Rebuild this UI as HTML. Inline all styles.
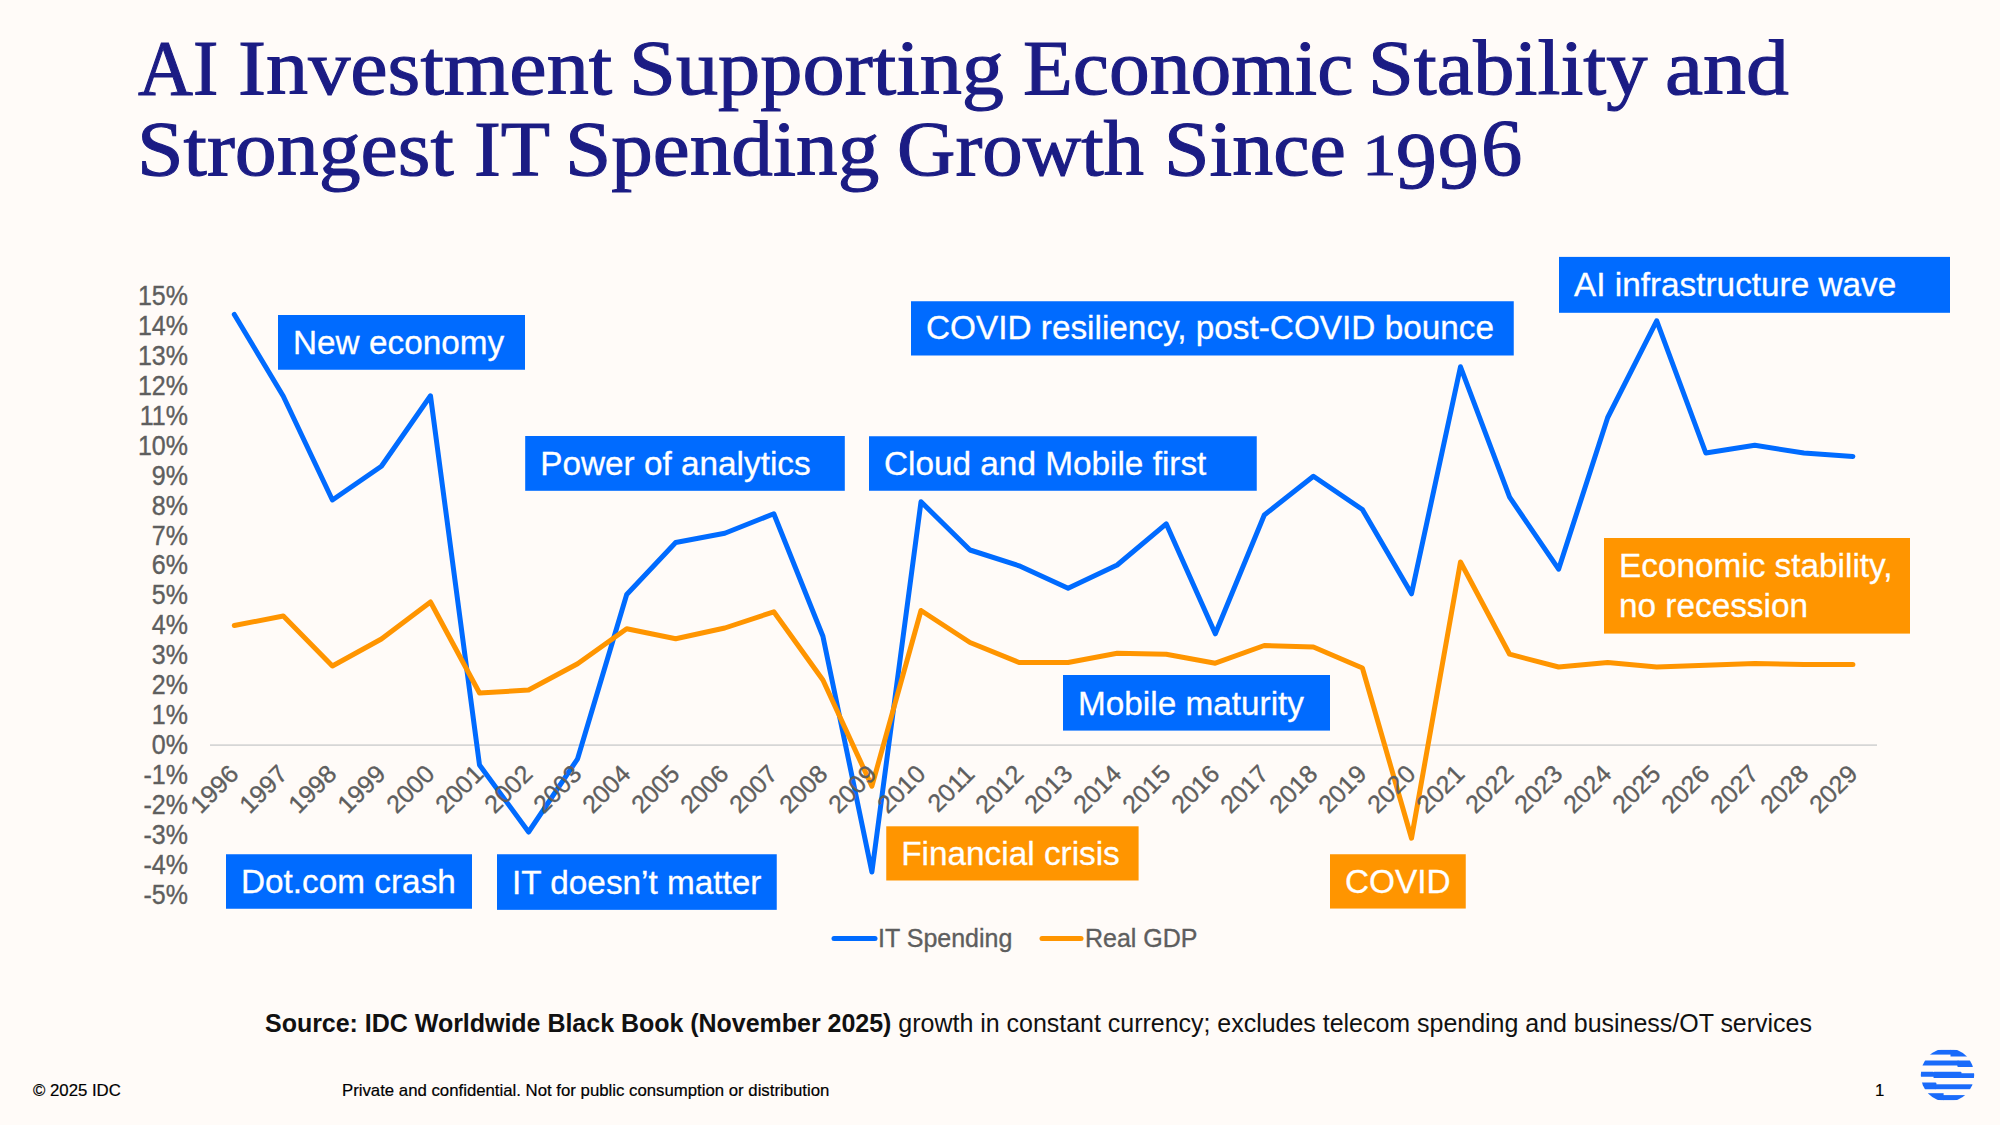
<!DOCTYPE html>
<html lang="en"><head><meta charset="utf-8"><title>AI Investment Supporting Economic Stability</title>
<style>
html,body{margin:0;padding:0;background:#FFFBF8;}
body{width:2000px;height:1125px;position:relative;overflow:hidden;font-family:"Liberation Sans",Arial,sans-serif;}
.title{position:absolute;left:0;top:0;margin:0;font-family:"Liberation Serif","DejaVu Serif",serif;font-weight:400;font-size:79px;line-height:81.6px;color:#1B1C84;white-space:nowrap;-webkit-text-stroke:1.1px #1B1C84;}
.title span{position:absolute;display:block;transform-origin:0 0;}
.yl{position:absolute;left:88px;width:100px;text-align:right;font-size:25px;line-height:29px;color:#5e5e5e;white-space:nowrap;transform:scaleY(1.07);transform-origin:50% 53%;-webkit-text-stroke:0.35px #5e5e5e;}
.xl{position:absolute;top:754.5px;width:100px;text-align:right;font-size:25px;line-height:29px;color:#5e5e5e;white-space:nowrap;transform-origin:100% 50%;transform:rotate(-45deg);-webkit-text-stroke:0.35px #5e5e5e;}
.bt{font-family:"Liberation Sans",Arial,sans-serif;font-size:33.33px;fill:#fff;stroke:#fff;stroke-width:0.3px;white-space:pre;}
svg{position:absolute;left:0;top:0;}
.leg{position:absolute;top:923.5px;font-size:25px;line-height:29px;color:#5e5e5e;white-space:nowrap;transform:scaleY(1.04);transform-origin:0 80%;-webkit-text-stroke:0.35px #5e5e5e;}
.src{position:absolute;left:265px;top:1009px;font-size:25px;line-height:29px;color:#111;white-space:nowrap;letter-spacing:-0.022px;}
.ft{-webkit-text-stroke:0.2px #000;position:absolute;top:1081px;font-size:16.77px;line-height:19px;color:#000;white-space:nowrap;}
</style></head><body>
<h1 class="title"><span style="left:138.0px;top:26.5px;transform:scaleX(0.9630)">AI</span> <span style="left:237.9px;top:26.5px;transform:scaleX(1.0659)">Investment</span> <span style="left:629.2px;top:26.5px;transform:scaleX(1.0681)">Supporting</span> <span style="left:1023.4px;top:26.5px;transform:scaleX(1.0315)">Economic</span> <span style="left:1368.3px;top:26.5px;transform:scaleX(1.0437)">Stability</span> <span style="left:1665.3px;top:26.5px;transform:scaleX(1.0848)">and</span>
<span style="left:137.2px;top:108.1px;transform:scaleX(1.0612)">Strongest</span> <span style="left:473.5px;top:108.1px;transform:scaleX(1.0208)">IT</span> <span style="left:564.7px;top:108.1px;transform:scaleX(1.0529)">Spending</span> <span style="left:897.3px;top:108.1px;transform:scaleX(1.0235)">Growth</span> <span style="left:1164.3px;top:108.1px;transform:scaleX(1.0357)">Since</span> <span style="left:1362.0px;top:123.6px;transform:scale(0.8793,0.7593)">1</span><span style="left:1395.7px;top:119.8px;transform:scale(1.0343,1.0130)">9</span><span style="left:1437.5px;top:119.8px;transform:scale(1.0371,1.0130)">9</span><span style="left:1480.5px;top:106.7px;transform:scale(1.0457,1.0185)">6</span></h1>
<svg width="2000" height="1125" viewBox="0 0 2000 1125">
<line x1="210" y1="745.1" x2="1877" y2="745.1" stroke="#D6D6D6" stroke-width="1.9"/>
<polyline points="234.3,314.5 283.3,396.2 332.4,500.0 381.4,466.2 430.5,395.8 479.5,765.0 528.6,832.0 577.6,758.8 626.7,594.5 675.7,542.5 724.8,533.2 773.8,513.8 822.9,636.2 871.9,872.0 921.0,501.8 970.0,550.0 1019.1,565.8 1068.1,588.2 1117.2,565.0 1166.2,523.8 1215.3,633.8 1264.3,515.0 1313.4,476.2 1362.4,509.5 1411.5,593.8 1460.5,366.8 1509.6,497.2 1558.6,569.2 1607.7,417.5 1656.7,320.8 1705.8,453.0 1754.8,445.3 1803.9,453.0 1852.9,456.4" fill="none" stroke="#006BFF" stroke-width="5" stroke-linejoin="round" stroke-linecap="round"/>
<polyline points="234.3,625.5 283.3,616.0 332.4,666.0 381.4,639.0 430.5,602.0 479.5,693.0 528.6,690.0 577.6,663.8 626.7,628.8 675.7,638.8 724.8,628.0 773.8,611.8 822.9,680.0 871.9,786.2 921.0,610.5 970.0,642.5 1019.1,662.5 1068.1,662.5 1117.2,653.2 1166.2,654.2 1215.3,663.2 1264.3,645.5 1313.4,647.0 1362.4,668.0 1411.5,838.2 1460.5,562.0 1509.6,654.2 1558.6,667.0 1607.7,662.5 1656.7,667.0 1705.8,665.3 1754.8,663.6 1803.9,664.4 1852.9,664.4" fill="none" stroke="#FF9500" stroke-width="5" stroke-linejoin="round" stroke-linecap="round"/>
<line x1="834" y1="938.5" x2="875" y2="938.5" stroke="#006BFF" stroke-width="5" stroke-linecap="round"/>
<line x1="1042" y1="938.5" x2="1081" y2="938.5" stroke="#FF9500" stroke-width="5" stroke-linecap="round"/>
</svg>
<div class="yl" style="top:281.1px">15%</div>
<div class="yl" style="top:311.0px">14%</div>
<div class="yl" style="top:340.9px">13%</div>
<div class="yl" style="top:370.9px">12%</div>
<div class="yl" style="top:400.8px">11%</div>
<div class="yl" style="top:430.7px">10%</div>
<div class="yl" style="top:460.6px">9%</div>
<div class="yl" style="top:490.5px">8%</div>
<div class="yl" style="top:520.5px">7%</div>
<div class="yl" style="top:550.4px">6%</div>
<div class="yl" style="top:580.3px">5%</div>
<div class="yl" style="top:610.2px">4%</div>
<div class="yl" style="top:640.1px">3%</div>
<div class="yl" style="top:670.1px">2%</div>
<div class="yl" style="top:700.0px">1%</div>
<div class="yl" style="top:729.9px">0%</div>
<div class="yl" style="top:759.8px">-1%</div>
<div class="yl" style="top:789.7px">-2%</div>
<div class="yl" style="top:819.7px">-3%</div>
<div class="yl" style="top:849.6px">-4%</div>
<div class="yl" style="top:879.5px">-5%</div>

<div class="xl" style="left:133.9px">1996</div>
<div class="xl" style="left:182.9px">1997</div>
<div class="xl" style="left:232.0px">1998</div>
<div class="xl" style="left:281.0px">1999</div>
<div class="xl" style="left:330.1px">2000</div>
<div class="xl" style="left:379.1px">2001</div>
<div class="xl" style="left:428.2px">2002</div>
<div class="xl" style="left:477.2px">2003</div>
<div class="xl" style="left:526.3px">2004</div>
<div class="xl" style="left:575.3px">2005</div>
<div class="xl" style="left:624.4px">2006</div>
<div class="xl" style="left:673.4px">2007</div>
<div class="xl" style="left:722.5px">2008</div>
<div class="xl" style="left:771.5px">2009</div>
<div class="xl" style="left:820.6px">2010</div>
<div class="xl" style="left:869.6px">2011</div>
<div class="xl" style="left:918.7px">2012</div>
<div class="xl" style="left:967.7px">2013</div>
<div class="xl" style="left:1016.8px">2014</div>
<div class="xl" style="left:1065.8px">2015</div>
<div class="xl" style="left:1114.9px">2016</div>
<div class="xl" style="left:1163.9px">2017</div>
<div class="xl" style="left:1213.0px">2018</div>
<div class="xl" style="left:1262.0px">2019</div>
<div class="xl" style="left:1311.1px">2020</div>
<div class="xl" style="left:1360.1px">2021</div>
<div class="xl" style="left:1409.2px">2022</div>
<div class="xl" style="left:1458.2px">2023</div>
<div class="xl" style="left:1507.3px">2024</div>
<div class="xl" style="left:1556.3px">2025</div>
<div class="xl" style="left:1605.4px">2026</div>
<div class="xl" style="left:1654.4px">2027</div>
<div class="xl" style="left:1703.5px">2028</div>
<div class="xl" style="left:1752.5px">2029</div>

<svg width="2000" height="1125" viewBox="0 0 2000 1125">
<rect x="278" y="315" width="247" height="54.75" fill="#006BFF"/><text class="bt" x="293" y="354.0">New economy</text>
<rect x="525.2" y="436" width="319.6" height="54.8" fill="#006BFF"/><text class="bt" x="540.2" y="475.1">Power of analytics</text>
<rect x="869" y="436.25" width="387.75" height="54.5" fill="#006BFF"/><text class="bt" x="884" y="475.1">Cloud and Mobile first</text>
<rect x="911" y="301.25" width="602.75" height="54.25" fill="#006BFF"/><text class="bt" x="926" y="338.8">COVID resiliency, post-COVID bounce</text>
<rect x="1559" y="256.9" width="391" height="55.9" fill="#006BFF"/><text class="bt" x="1574" y="296.1">AI infrastructure wave</text>
<rect x="1063" y="675" width="267" height="55.6" fill="#006BFF"/><text class="bt" x="1078" y="715.0">Mobile maturity</text>
<rect x="226" y="854.25" width="246" height="54.5" fill="#006BFF"/><text class="bt" x="241" y="893.0">Dot.com crash</text>
<rect x="497" y="854.25" width="279.75" height="55.6" fill="#006BFF"/><text class="bt" x="512" y="894.1">IT doesn’t matter</text>
<rect x="886.25" y="826.3" width="252.35" height="54.2" fill="#FF9500"/><text class="bt" x="901.25" y="864.7">Financial crisis</text>
<rect x="1330" y="854.25" width="135.75" height="54.3" fill="#FF9500"/><text class="bt" x="1345" y="892.9">COVID</text>
<rect x="1604" y="538" width="306" height="95.6" fill="#FF9500"/><text class="bt" x="1619" y="577.1">Economic stability,</text><text class="bt" x="1619" y="617.1">no recession</text>
</svg>
<div class="leg" style="left:878px">IT Spending</div>
<div class="leg" style="left:1085px">Real GDP</div>
<div class="src"><b>Source: IDC Worldwide Black Book (November 2025)</b> growth in constant currency; excludes telecom spending and business/OT services</div>
<div class="ft" style="left:33px">© 2025 IDC</div>
<div class="ft" style="left:342px">Private and confidential. Not for public consumption or distribution</div>
<div class="ft" style="left:1875px">1</div>
<svg width="2000" height="1125" viewBox="0 0 2000 1125" style="pointer-events:none">
<defs><clipPath id="gc"><circle cx="1947.5" cy="1075" r="26.7"/></clipPath></defs>
<g clip-path="url(#gc)" fill="#1A6BFA">
<rect x="1915" y="1049.9" width="36" height="4.7"/><rect x="1950.5" y="1049.9" width="30" height="6.6"/>
<rect x="1915" y="1060.5" width="43.5" height="5"/><rect x="1957.3" y="1060.5" width="26" height="6.6" rx="1"/>
<rect x="1915" y="1071.7" width="19" height="5" rx="1"/><rect x="1933.3" y="1071.7" width="28.2" height="6.4" rx="1"/><rect x="1960.5" y="1073.3" width="22" height="4.8" rx="1"/>
<rect x="1915" y="1082.6" width="21.4" height="6.6" rx="1"/><rect x="1935.4" y="1084.3" width="46" height="4.9"/>
<rect x="1915" y="1093.2" width="28.6" height="6.9"/><rect x="1943" y="1095.1" width="40" height="5"/>
</g></svg>
</body></html>
